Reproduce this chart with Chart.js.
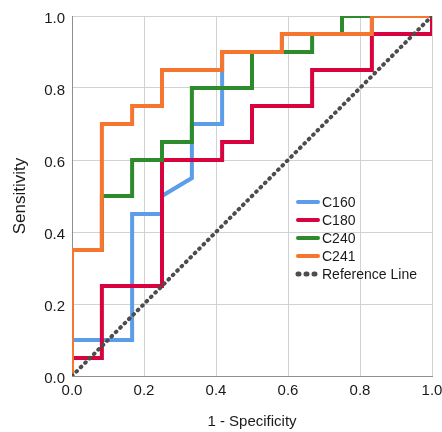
<!DOCTYPE html>
<html>
<head>
<meta charset="utf-8">
<script src="https://cdn.jsdelivr.net/npm/chart.js@4/dist/chart.umd.min.js"></script>
<style>
  html, body { margin: 0; padding: 0; background: #fff; }
  #wrap { width: 442px; height: 432px; }
</style>
</head>
<body>
<div id="wrap"><canvas id="roc"></canvas></div>
<script>
'use strict';

// ROC data (x = 1 - specificity, y = sensitivity)
var seriesNames = ['C160', 'C180', 'C240', 'C241', 'Reference Line'];
var seriesColors = ['#5b9de8', '#d8023e', '#2d8a2d', '#f6752f', '#4d4d4d'];

var c160X = [0, 0, 0.167, 0.167, 0.25, 0.25, 0.333, 0.333, 0.417, 0.417, 0.583, 0.583, 0.833, 0.833, 1];
var c160Y = [0, 0.1, 0.1, 0.45, 0.45, 0.5, 0.55, 0.7, 0.7, 0.9, 0.9, 0.95, 0.95, 1, 1];

var c180X = [0, 0, 0.083, 0.083, 0.25, 0.25, 0.417, 0.417, 0.5, 0.5, 0.667, 0.667, 0.833, 0.833, 1, 1];
var c180Y = [0, 0.05, 0.05, 0.25, 0.25, 0.6, 0.6, 0.65, 0.65, 0.75, 0.75, 0.85, 0.85, 0.95, 0.95, 1];

var c240X = [0, 0, 0.083, 0.083, 0.167, 0.167, 0.25, 0.25, 0.333, 0.333, 0.5, 0.5, 0.667, 0.667, 0.75, 0.75, 1];
var c240Y = [0, 0.35, 0.35, 0.5, 0.5, 0.6, 0.6, 0.65, 0.65, 0.8, 0.8, 0.9, 0.9, 0.95, 0.95, 1, 1];

var c241X = [0, 0, 0.083, 0.083, 0.167, 0.167, 0.25, 0.25, 0.417, 0.417, 0.583, 0.583, 0.833, 0.833, 1];
var c241Y = [0, 0.35, 0.35, 0.7, 0.7, 0.75, 0.75, 0.85, 0.85, 0.9, 0.9, 0.95, 0.95, 1, 1];

var refX = [0, 1];
var refY = [0, 1];

var axisTicks = [0, 0.2, 0.4, 0.6, 0.8, 1.0];

var FONT = "'Liberation Sans', Arial, sans-serif";

function toPoints(xs, ys) {
  var pts = [];
  for (var i = 0; i < xs.length; i++) {
    pts.push({ x: xs[i], y: ys[i] });
  }
  return pts;
}

var allX = [c160X, c180X, c240X, c241X, refX];
var allY = [c160Y, c180Y, c240Y, c241Y, refY];
var datasets = [];
for (var s = 0; s < seriesNames.length; s++) {
  var isRef = s === 4;
  datasets.push({
    label: seriesNames[s],
    data: toPoints(allX[s], allY[s]),
    borderColor: seriesColors[s],
    backgroundColor: seriesColors[s],
    borderWidth: 4,
    borderDash: isRef ? [0.8, 5.4] : [],
    borderCapStyle: isRef ? 'round' : 'butt',
    borderJoinStyle: 'miter',
    pointRadius: 0,
    tension: 0,
    fill: false,
    // lower order is drawn on top: reference line, then C241, C240, C180, C160
    order: 5 - s
  });
}

// legend drawn inside the plot area
var insideLegend = {
  id: 'insideLegend',
  afterDraw: function (chart) {
    var ctx = chart.ctx;
    var x0 = 296, y0 = 202, rowH = 18;
    ctx.save();
    ctx.font = '14px ' + FONT;
    ctx.textBaseline = 'middle';
    ctx.textAlign = 'left';
    chart.data.datasets.forEach(function (ds, i) {
      var y = y0 + i * rowH;
      ctx.beginPath();
      ctx.strokeStyle = ds.borderColor;
      ctx.lineWidth = 4;
      ctx.lineCap = 'round';
      if (ds.borderDash.length) {
        ctx.setLineDash([1, 7]);
        ctx.lineWidth = 5;
      } else {
        ctx.setLineDash([]);
      }
      ctx.moveTo(x0 + 2, y);
      ctx.lineTo(x0 + 22, y);
      ctx.stroke();
      ctx.setLineDash([]);
      ctx.fillStyle = '#1a1a1a';
      ctx.fillText(ds.label, x0 + 26, y + 1);
    });
    ctx.restore();
  }
};

new Chart(document.getElementById('roc'), {
  type: 'line',
  data: { datasets: datasets },
  plugins: [insideLegend],
  options: {
    responsive: true,
    maintainAspectRatio: false,
    animation: false,
    layout: { padding: { top: 16, right: 10, left: 0, bottom: 0 } },
    plugins: {
      legend: { display: false },
      tooltip: { enabled: false }
    },
    scales: {
      x: {
        type: 'linear',
        min: 0,
        max: 1,
        afterBuildTicks: function (scale) {
          scale.ticks = axisTicks.map(function (v) { return { value: v }; });
        },
        afterFit: function (scale) {
          scale.height = 56;
          scale.paddingLeft = 0;
          scale.paddingRight = 0;
        },
        ticks: {
          padding: 6,
          color: '#1a1a1a',
          font: { family: FONT, size: 15 },
          maxRotation: 0,
          callback: function (v) { return v.toFixed(1); }
        },
        grid: { color: '#d2d2d2', lineWidth: 1, drawTicks: false },
        border: { color: '#8f8f8f', width: 1 },
        title: {
          display: true,
          text: '1 - Specificity',
          color: '#1a1a1a',
          font: { family: FONT, size: 15 },
          padding: { top: 0, bottom: 1 }
        }
      },
      y: {
        type: 'linear',
        min: 0,
        max: 1,
        afterBuildTicks: function (scale) {
          scale.ticks = axisTicks.map(function (v) { return { value: v }; });
        },
        afterFit: function (scale) {
          scale.width = 72;
          scale.paddingTop = 0;
          scale.paddingBottom = 0;
        },
        ticks: {
          padding: 7,
          labelOffset: 3,
          color: '#1a1a1a',
          font: { family: FONT, size: 15 },
          callback: function (v) { return v.toFixed(1); }
        },
        grid: { color: '#d2d2d2', lineWidth: 1, drawTicks: false },
        border: { color: '#8f8f8f', width: 1 },
        title: {
          display: true,
          text: 'Sensitivity',
          color: '#1a1a1a',
          font: { family: FONT, size: 17 },
          padding: { top: 10, bottom: 0 }
        }
      }
    }
  }
});
</script>
</body>
</html>
